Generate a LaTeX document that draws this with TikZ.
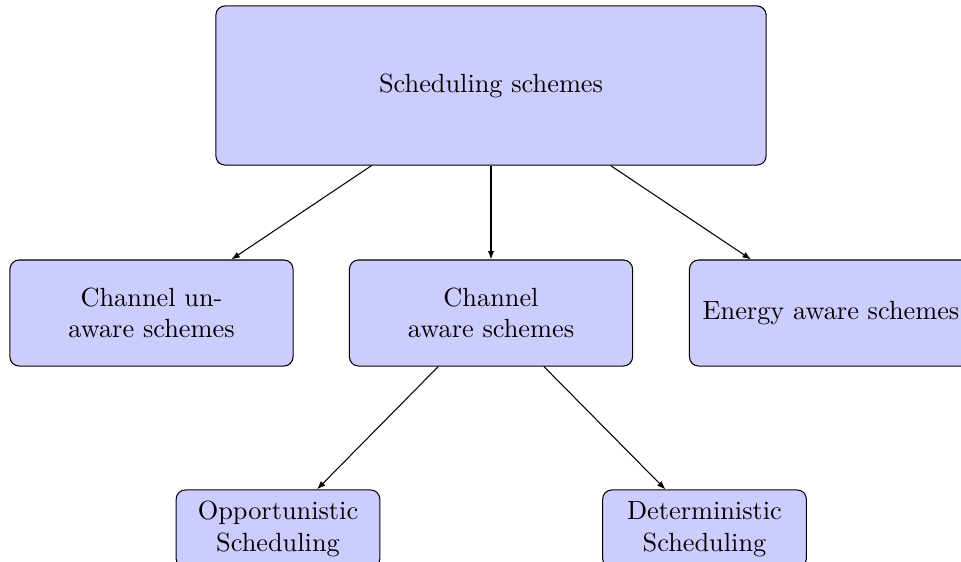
\documentclass[tikz,border=0pt]{standalone}
\usetikzlibrary{arrows.meta}
\begin{document}
\begin{tikzpicture}[x=0.38pt,y=-0.38pt,
  box/.style={draw=black, fill=blue!20, rounded corners=3.5pt, align=center, inner sep=2pt},
  bigbox/.style={box, minimum width=209.1pt, minimum height=60.5pt},
  midbox/.style={box, minimum width=107.6pt, minimum height=40.3pt},
  smallbox/.style={box, minimum width=77.4pt, minimum height=29.7pt},
  conn/.style={-{Latex[length=3.2pt,width=2.4pt]}, line width=0.4pt}]
\clip (0,0) rectangle (961,561);
\useasboundingbox (0,0) rectangle (961,561);
\node[bigbox] (top) at (491,85.5) {Scheduling schemes};
\node[midbox] (cu) at (151.5,313) {Channel un-\\aware schemes};
\node[midbox] (ca) at (491,313) {Channel\\aware schemes};
\node[midbox] (ea) at (831,313) {Energy aware schemes};
\node[smallbox] (op) at (278,529) {Opportunistic\\Scheduling};
\node[smallbox] (de) at (704.5,529) {Deterministic\\Scheduling};
\draw[conn] (top) -- (cu);
\draw[conn] (top) -- (ca);
\draw[conn] (top) -- (ea);
\draw[conn] (ca) -- (op);
\draw[conn] (ca) -- (de);
\end{tikzpicture}
\end{document}
